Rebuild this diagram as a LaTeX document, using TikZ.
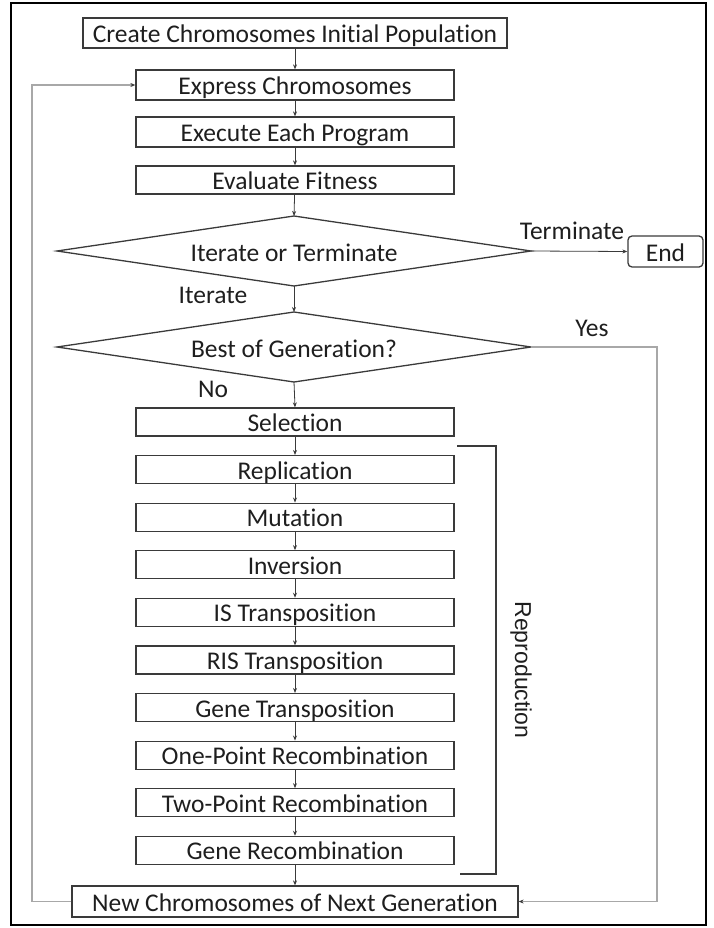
\documentclass[tikz,border=0pt]{standalone}
\usepackage{fontspec}
\setmainfont{Carlito}[Ligatures=NoCommon]
\newfontfamily\arialfont{Liberation Sans}
\usetikzlibrary{arrows.meta}
\definecolor{boxc}{HTML}{3A3A3A}
\definecolor{loopc}{HTML}{A8A8A8}
\definecolor{txt}{HTML}{1E1E1E}
\begin{document}
\begin{tikzpicture}[x=1pt,y=-1pt,
  mainfont/.style={font=\fontsize{25.5}{30}\selectfont},
  box/.style={draw=boxc, line width=1.3pt, minimum width=318pt, minimum height=28pt,
    inner sep=0pt, mainfont, text height=20pt, text depth=1pt, text=txt},
  diaedge/.style={draw=boxc, line width=1.3pt, line join=miter},
  lbl/.style={mainfont, text=txt, inner sep=0pt},
  conn/.style={draw=boxc, line width=0.8pt, -{Stealth[length=5pt,width=4pt]}},
  loopline/.style={draw=loopc, line width=1.4pt},
  looparrow/.style={loopline, -{Stealth[length=5pt,width=4pt,color=boxc]}}
]
\useasboundingbox (0,0) rectangle (714,928);
\draw[black, line width=2.5pt] (11,3) rectangle (706,925);

\node[box, minimum width=424pt, minimum height=30pt] (create) at (295,33) {Create Chromosomes Initial Population};
\node[box, minimum height=30pt] (express) at (295,85) {Express Chromosomes};
\node[box, minimum height=30pt] (execute) at (295,132) {Execute Each Program};
\node[box] (evaluate) at (295,180) {Evaluate Fitness};

% diamond 1
\coordinate (d1n) at (294,216);
\coordinate (d1s) at (294,286);
\coordinate (d1w) at (57,251);
\coordinate (d1e) at (531,251);
\draw[diaedge] (d1n) -- (d1e) -- (d1s) -- (d1w) -- cycle;
\node[lbl, text height=20pt, text depth=1pt] (d1) at (294,252) {Iterate or Terminate};

% diamond 2
\coordinate (d2n) at (294,312);
\coordinate (d2s) at (294,382);
\coordinate (d2w) at (57,347);
\coordinate (d2e) at (531,347);
\draw[diaedge] (d2n) -- (d2e) -- (d2s) -- (d2w) -- cycle;
\node[lbl, text height=20pt, text depth=1pt] (d2) at (294,348) {Best of Generation?};

\node[box] (sel) at (295,422) {Selection};
\node[box] (rep) at (295,469.6) {Replication};
\node[box] (mut) at (295,517.2) {Mutation};
\node[box] (inv) at (295,564.8) {Inversion};
\node[box] (ist) at (295,612.4) {IS Transposition};
\node[box] (rist) at (295,660) {RIS Transposition};
\node[box] (genet) at (295,707.6) {Gene Transposition};
\node[box] (onep) at (295,755.2) {One-Point Recombination};
\node[box] (twop) at (295,802.8) {Two-Point Recombination};
\node[box] (generec) at (295,850.4) {Gene Recombination};
\node[box, minimum width=446pt, minimum height=31pt] (new) at (295,901.5) {New Chromosomes of Next Generation};
\node[box, rounded corners=4pt, minimum width=75pt, minimum height=31pt] (end) at (665.5,251.5) {End};

\node[lbl] (lterm) at (572,231) {Terminate};
\node[lbl] (liter) at (213,295) {Iterate};
\node[lbl] (lno) at (213,389) {No};
\node[lbl] (lyes) at (592,328) {Yes};
\node[text=txt, inner sep=0pt, rotate=-90, font=\arialfont\fontsize{23}{26}\selectfont] (lrep) at (521,670) {Reproduction};

\draw[conn] (create) -- (express);
\draw[conn] (express) -- (execute);
\draw[conn] (execute) -- (evaluate);
\draw[conn] (evaluate) -- (d1n);
\draw[conn] (d1s) -- (d2n);
\draw[conn] (d1e) -- (end.west);
\draw[conn] (d2s) -- (sel.north);
\draw[conn] (sel) -- (rep);
\draw[conn] (rep) -- (mut);
\draw[conn] (mut) -- (inv);
\draw[conn] (inv) -- (ist);
\draw[conn] (ist) -- (rist);
\draw[conn] (rist) -- (genet);
\draw[conn] (genet) -- (onep);
\draw[conn] (onep) -- (twop);
\draw[conn] (twop) -- (generec);
\draw[conn] (generec) -- (new);

\coordinate (lx) at (32,0);
\coordinate (rx) at (657,0);
\draw[looparrow] (new.west) -- (new.west -| lx) -- (express.west -| lx) -- (express.west);
\draw[looparrow] (d2e) -- (d2e -| rx) -- (new.east -| rx) -- (new.east);

\coordinate (bt1) at (457,446);
\coordinate (bt2) at (496,446);
\coordinate (bb2) at (496,874);
\coordinate (bb1) at (460,874);
\draw[draw=boxc, line width=1.3pt] (bt1) -- (bt2) -- (bb2) -- (bb1);
\end{tikzpicture}
\end{document}
